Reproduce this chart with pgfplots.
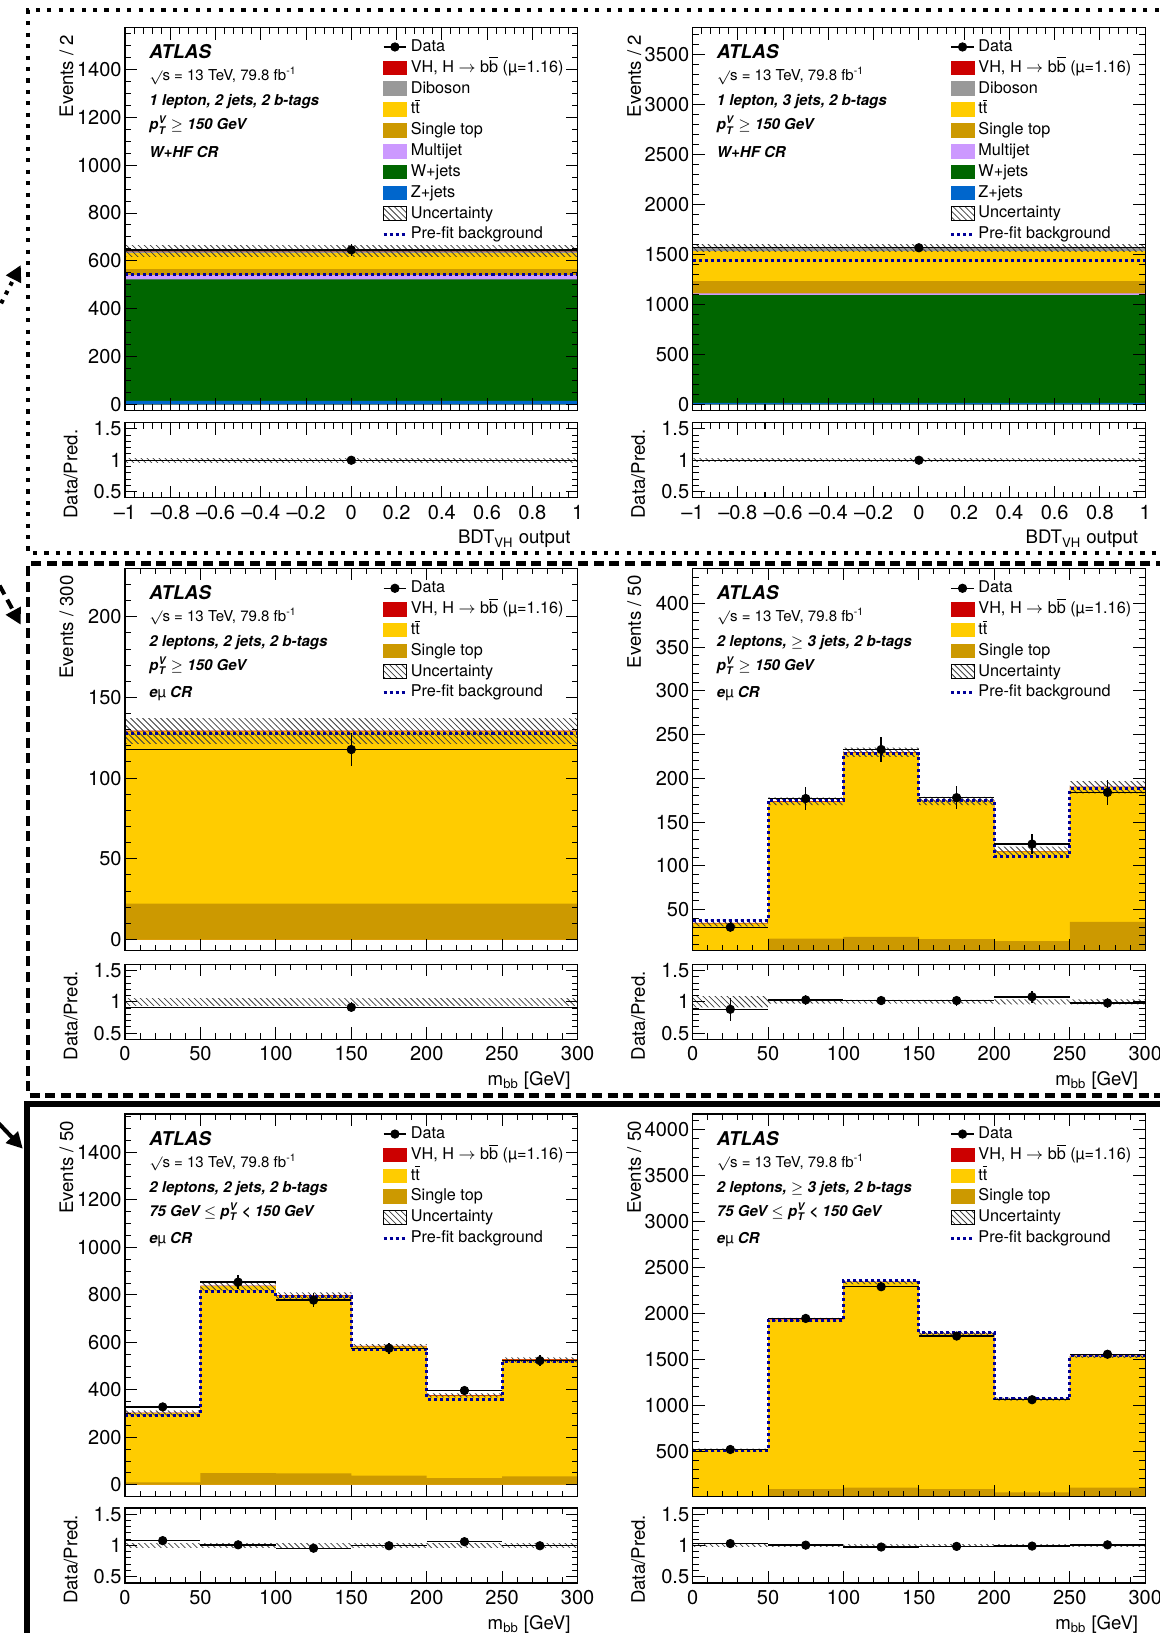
\documentclass[border=0pt]{standalone}
\usepackage{amsmath}
\usepackage{fontspec}
\setmainfont{TeX Gyre Heros}
\usepackage{pgfplots}
\pgfplotsset{compat=1.18}
\usetikzlibrary{patterns,arrows.meta}
\definecolor{cVH}{RGB}{204,0,0}
\definecolor{cDib}{RGB}{153,153,153}
\definecolor{cTT}{RGB}{255,204,0}
\definecolor{cST}{RGB}{204,153,0}
\definecolor{cMJ}{RGB}{204,153,255}
\definecolor{cW}{RGB}{0,102,0}
\definecolor{cZ}{RGB}{0,102,204}
\definecolor{cPre}{RGB}{0,0,153}
\newcommand{\fsz}[1]{\fontsize{#1}{#1}\selectfont}
\newcommand{\ptv}{\textit{p}$^{\textbf{\textit{V}}}_{\textbf{\textit{T}}}$}
\pgfplotsset{
 basestyle/.style={scale only axis, width=226pt, axis on top, tick align=inside,
   xtick pos=both, ytick pos=both, major tick length=6pt, minor tick length=3pt,
   tick style={black, line width=0.5pt}, axis line style={line width=0.6pt},
   tick label style={font=\fsz{10}}, yticklabel style={inner sep=1.5pt},
   /pgf/number format/assume math mode=true, /pgf/number format/1000 sep={},
   scaled ticks=false, label style={font=\fsz{9.3}},
   ylabel style={at={(axis description cs:-0.129,1)}, anchor=east},
   xlabel style={at={(axis description cs:1,0)}, anchor=base east, yshift=-23pt},
   legend style={anchor=north west, draw=none, fill=none, inner sep=0pt,
     font=\fsz{8.1}, row sep=0pt, nodes={inner sep=1.5pt, text height=5.9pt, text depth=1.5pt}},
   legend cell align=left},
 mainpad/.style={basestyle, height=191pt, xticklabels={}},
 ratiopad/.style={basestyle, height=37.5pt, ymin=0.4, ymax=1.6, ytick={0.5,1,1.5},
   yticklabels={0.5,1,1.5}, minor ytick={0.4,0.5,...,1.6}, ylabel={Data/Pred.},
   ylabel style={at={(axis description cs:-0.12,1)}}},
 bdtx/.style={xmin=-1, xmax=1, xtick={-1,-0.8,...,1}, minor xtick={-1,-0.96,...,1}},
 mbbx/.style={xmin=0, xmax=300, xtick={0,50,...,300}, minor xtick={0,10,...,300}},
 stk/.style={forget plot, const plot, fill=#1, draw=none},
 hatchband/.style={forget plot, draw=none, pattern=north west lines, pattern color=black!75},
 prefit/.style={forget plot, const plot, cPre, line width=1.5pt, dash pattern=on 1.5pt off 1.5pt},
 datapts/.style={forget plot, black, only marks, mark=*, mark size=2.1pt,
   error bars/.cd, x dir=both, x explicit, y dir=both, y explicit, error mark=none,
   error bar style={line width=0.7pt, black}},
 legbox/.style={legend image code/.code={\fill[#1] (0pt,-3.4pt) rectangle (11.4pt,3.4pt);}},
 legdata/.style={legend image code/.code={\draw[black, line width=0.7pt] (0pt,0pt) -- (11.4pt,0pt); \fill[black] (5.7pt,0pt) circle (2.1pt);}},
 legunc/.style={legend image code/.code={\draw[black, line width=0.4pt, pattern=north west lines, pattern color=black!75] (0pt,-3.4pt) rectangle (11.4pt,3.4pt);}},
 legpre/.style={legend image code/.code={\draw[cPre, line width=1.5pt, dash pattern=on 1.5pt off 1.5pt] (0pt,0pt) -- (11.4pt,0pt);}},
}
\newcommand{\paneltext}[3]{%
 \node[anchor=base west, inner sep=0pt, font=\bfseries\itshape\fsz{9.5}] at (axis description cs:0.053,0.919) {ATLAS};
 \node[anchor=base west, inner sep=0pt, font=\fsz{7.5}] at (axis description cs:0.053,0.861) {$\surd$s = 13 TeV, 79.8 fb\textsuperscript{-1}};
 \node[anchor=base west, inner sep=0pt, font=\bfseries\itshape\fsz{7.5}] at (axis description cs:0.053,0.796) {#1};
 \node[anchor=base west, inner sep=0pt, font=\bfseries\itshape\fsz{7.5}] at (axis description cs:0.053,0.733) {#2};
 \node[anchor=base west, inner sep=0pt, font=\bfseries\itshape\fsz{7.5}] at (axis description cs:0.053,0.662) {#3};}
\newcommand{\legsmall}{%
 \addlegendimage{legdata}\addlegendentry{Data}
 \addlegendimage{legbox=cVH}\addlegendentry{VH, H $\rightarrow$ b$\overline{\mbox{b}}$ (µ=1.16)}
 \addlegendimage{legbox=cTT}\addlegendentry{t$\overline{\mbox{t}}$}
 \addlegendimage{legbox=cST}\addlegendentry{Single top}
 \addlegendimage{legunc}\addlegendentry{Uncertainty}
 \addlegendimage{legpre}\addlegendentry{Pre-fit background}}
\newcommand{\legbig}{%
 \addlegendimage{legdata}\addlegendentry{Data}
 \addlegendimage{legbox=cVH}\addlegendentry{VH, H $\rightarrow$ b$\overline{\mbox{b}}$ (µ=1.16)}
 \addlegendimage{legbox=cDib}\addlegendentry{Diboson}
 \addlegendimage{legbox=cTT}\addlegendentry{t$\overline{\mbox{t}}$}
 \addlegendimage{legbox=cST}\addlegendentry{Single top}
 \addlegendimage{legbox=cMJ}\addlegendentry{Multijet}
 \addlegendimage{legbox=cW}\addlegendentry{W+jets}
 \addlegendimage{legbox=cZ}\addlegendentry{Z+jets}
 \addlegendimage{legunc}\addlegendentry{Uncertainty}
 \addlegendimage{legpre}\addlegendentry{Pre-fit background}}
\newcommand{\bdtlabels}{\textendash1,\textendash0.8,\textendash0.6,\textendash0.4,\textendash0.2,0,0.2,0.4,0.6,0.8,1}
\begin{document}
\begin{tikzpicture}
\useasboundingbox (0,0) rectangle (578.76pt,815.36pt);
% ================= Row 1 left
\begin{axis}[mainpad, bdtx, at={(62.4pt,610.5pt)}, anchor=south west, ymin=-25, ymax=1575,
  ytick={0,200,...,1400}, minor ytick={0,50,...,1550}, ylabel={Events / 2},
  legend style={at={(0.567,0.978)}}]
\addplot[stk=cVH] coordinates {(-1,643)(1,643)} \closedcycle;
\addplot[stk=cDib] coordinates {(-1,640)(1,640)} \closedcycle;
\addplot[stk=cTT] coordinates {(-1,632)(1,632)} \closedcycle;
\addplot[stk=cST] coordinates {(-1,565)(1,565)} \closedcycle;
\addplot[stk=cMJ] coordinates {(-1,540)(1,540)} \closedcycle;
\addplot[stk=cW] coordinates {(-1,523)(1,523)} \closedcycle;
\addplot[stk=cZ] coordinates {(-1,14)(1,14)} \closedcycle;
\addplot[hatchband] coordinates {(-1,620)(1,620)(1,666)(-1,666)} --cycle;
\addplot[prefit] coordinates {(-1,541)(1,541)};
\addplot[datapts] coordinates {(0,646) +- (1,25)};
\paneltext{1 lepton, 2 jets, 2 b-tags}{\ptv\ {\upshape\mdseries $\geq$} 150 GeV}{W+HF CR}
\legbig
\end{axis}
\begin{axis}[ratiopad, bdtx, at={(62.4pt,566.8pt)}, anchor=south west,
  xticklabels/.expanded={\bdtlabels}, xlabel={BDT\textsubscript{VH} output}]
\addplot[hatchband] coordinates {(-1,0.965)(1,0.965)(1,1.035)(-1,1.035)} --cycle;
\addplot[datapts] coordinates {(0,1.0) +- (1,0.04)};
\end{axis}
% ================= Row 1 right
\begin{axis}[mainpad, bdtx, at={(345.8pt,610.5pt)}, anchor=south west, ymin=-60, ymax=3770,
  ytick={0,500,...,3500}, minor ytick={0,100,...,3700}, ylabel={Events / 2},
  legend style={at={(0.567,0.978)}}]
\addplot[stk=cVH] coordinates {(-1,1566)(1,1566)} \closedcycle;
\addplot[stk=cDib] coordinates {(-1,1563)(1,1563)} \closedcycle;
\addplot[stk=cTT] coordinates {(-1,1533)(1,1533)} \closedcycle;
\addplot[stk=cST] coordinates {(-1,1233)(1,1233)} \closedcycle;
\addplot[stk=cMJ] coordinates {(-1,1110)(1,1110)} \closedcycle;
\addplot[stk=cW] coordinates {(-1,1093)(1,1093)} \closedcycle;
\addplot[stk=cZ] coordinates {(-1,15)(1,15)} \closedcycle;
\addplot[hatchband] coordinates {(-1,1533)(1,1533)(1,1600)(-1,1600)} --cycle;
\addplot[prefit] coordinates {(-1,1436)(1,1436)};
\addplot[datapts] coordinates {(0,1567) +- (1,40)};
\paneltext{1 lepton, 3 jets, 2 b-tags}{\ptv\ {\upshape\mdseries $\geq$} 150 GeV}{W+HF CR}
\legbig
\end{axis}
\begin{axis}[ratiopad, bdtx, at={(345.8pt,566.8pt)}, anchor=south west,
  xticklabels/.expanded={\bdtlabels}, xlabel={BDT\textsubscript{VH} output}]
\addplot[hatchband] coordinates {(-1,0.975)(1,0.975)(1,1.025)(-1,1.025)} --cycle;
\addplot[datapts] coordinates {(0,1.0) +- (1,0.03)};
\end{axis}
% ================= Row 2 left
\begin{axis}[mainpad, mbbx, at={(62.4pt,340.6pt)}, anchor=south west, ymin=-7, ymax=230,
  ytick={0,50,...,200}, minor ytick={0,10,...,230}, ylabel={Events / 300},
  legend style={at={(0.567,0.976)}}]
\addplot[stk=cVH] coordinates {(0,129.5)(300,129.5)} \closedcycle;
\addplot[stk=cTT] coordinates {(0,129)(300,129)} \closedcycle;
\addplot[stk=cST] coordinates {(0,22.3)(300,22.3)} \closedcycle;
\addplot[hatchband] coordinates {(0,121.5)(300,121.5)(300,137)(0,137)} --cycle;
\addplot[prefit] coordinates {(0,127.6)(300,127.6)};
\addplot[datapts] coordinates {(150,117.7) +- (150,10.3)};
\paneltext{2 leptons, 2 jets, 2 b-tags}{\ptv\ {\upshape\mdseries $\geq$} 150 GeV}{e{\upshape\mdseries µ} CR}
\legsmall
\end{axis}
\begin{axis}[ratiopad, mbbx, at={(62.4pt,296.4pt)}, anchor=south west, xlabel={m\textsubscript{bb} [GeV]}]
\addplot[hatchband] coordinates {(0,0.94)(300,0.94)(300,1.06)(0,1.06)} --cycle;
\addplot[datapts] coordinates {(150,0.912) +- (150,0.08)};
\end{axis}
% ================= Row 2 right
\begin{axis}[mainpad, mbbx, at={(345.8pt,340.6pt)}, anchor=south west, ymin=3, ymax=440,
  ytick={50,100,...,400}, minor ytick={10,20,...,440}, ylabel={Events / 50},
  legend style={at={(0.567,0.976)}}]
\addplot[stk=cVH] coordinates {(0,35)(50,174)(100,230)(150,174.5)(200,117)(250,190.5)(300,190.5)} \closedcycle;
\addplot[stk=cTT] coordinates {(0,34.5)(50,173.5)(100,229.5)(150,174)(200,116.5)(250,190)(300,190)} \closedcycle;
\addplot[stk=cST] coordinates {(0,2)(50,17)(100,19)(150,16.5)(200,14)(250,36)(300,36)} \closedcycle;
\addplot[hatchband] coordinates {(0,31)(50,31)(50,169.5)(100,169.5)(100,224.6)(150,224.6)(150,169.5)(200,169.5)(200,111)(250,111)(250,183)(300,183)
  (300,197)(250,197)(250,122)(200,122)(200,179)(150,179)(150,235)(100,235)(100,178)(50,178)(50,38.5)(0,38.5)} --cycle;
\addplot[prefit] coordinates {(0,37.5)(50,175)(100,228)(150,175)(200,111)(250,188.5)(300,188.5)};
\addplot[datapts] coordinates {(25,30) +- (25,6) (75,177) +- (25,13) (125,233) +- (25,14.5)
  (175,178) +- (25,13) (225,125) +- (25,11) (275,184) +- (25,14)};
\paneltext{2 leptons, {\upshape\mdseries $\geq$} 3 jets, 2 b-tags}{\ptv\ {\upshape\mdseries $\geq$} 150 GeV}{e{\upshape\mdseries µ} CR}
\legsmall
\end{axis}
\begin{axis}[ratiopad, mbbx, at={(345.8pt,296.4pt)}, anchor=south west, xlabel={m\textsubscript{bb} [GeV]}]
\addplot[hatchband] coordinates {(0,0.91)(50,0.91)(50,0.97)(200,0.97)(200,0.96)(300,0.96)
  (300,1.04)(200,1.04)(200,1.03)(50,1.03)(50,1.09)(0,1.09)} --cycle;
\addplot[datapts] coordinates {(25,0.88) +- (25,0.18) (75,1.03) +- (25,0.08) (125,1.02) +- (25,0.07)
  (175,1.02) +- (25,0.08) (225,1.08) +- (25,0.1) (275,0.98) +- (25,0.08)};
\end{axis}
% ================= Row 3 left
\begin{axis}[mainpad, mbbx, at={(62.4pt,68.1pt)}, anchor=south west, ymin=-50, ymax=1562,
  ytick={0,200,...,1400}, minor ytick={0,50,...,1550}, ylabel={Events / 50},
  legend style={at={(0.567,0.976)}}]
\addplot[stk=cVH] coordinates {(0,304)(50,839)(100,799)(150,585)(200,378)(250,529)(300,529)} \closedcycle;
\addplot[stk=cTT] coordinates {(0,302)(50,837)(100,797)(150,583)(200,376)(250,527)(300,527)} \closedcycle;
\addplot[stk=cST] coordinates {(0,10)(50,49)(100,48)(150,38)(200,28)(250,35)(300,35)} \closedcycle;
\addplot[hatchband] coordinates {(0,291)(50,291)(50,819)(100,819)(100,783)(150,783)(150,572)(200,572)(200,368)(250,368)(250,516)(300,516)
  (300,537)(250,537)(250,385)(200,385)(200,593)(150,593)(150,811)(100,811)(100,854)(50,854)(50,312)(0,312)} --cycle;
\addplot[prefit] coordinates {(0,291)(50,814)(100,795)(150,572)(200,361)(250,519)(300,519)};
\addplot[datapts] coordinates {(25,328) +- (25,18) (75,854) +- (25,29) (125,778) +- (25,28)
  (175,575) +- (25,24) (225,397) +- (25,20) (275,523) +- (25,23)};
\paneltext{2 leptons, 2 jets, 2 b-tags}{75 GeV {\upshape\mdseries $\leq$} \ptv\ < 150 GeV}{e{\upshape\mdseries µ} CR}
\legsmall
\end{axis}
\begin{axis}[ratiopad, mbbx, at={(62.4pt,24.96pt)}, anchor=south west, xlabel={m\textsubscript{bb} [GeV]}]
\addplot[hatchband] coordinates {(0,0.965)(300,0.965)(300,1.035)(0,1.035)} --cycle;
\addplot[datapts] coordinates {(25,1.077) +- (25,0.06) (75,1.01) +- (25,0.035) (125,0.956) +- (25,0.035)
  (175,0.995) +- (25,0.04) (225,1.06) +- (25,0.05) (275,0.995) +- (25,0.045)};
\end{axis}
% ================= Row 3 right
\begin{axis}[mainpad, mbbx, at={(345.8pt,68.1pt)}, anchor=south west, ymin=5, ymax=4170,
  ytick={500,1000,...,4000}, minor ytick={100,200,...,4100}, ylabel={Events / 50},
  legend style={at={(0.567,0.976)}}]
\addplot[stk=cVH] coordinates {(0,515)(50,1935)(100,2345)(150,1780)(200,1070)(250,1540)(300,1540)} \closedcycle;
\addplot[stk=cTT] coordinates {(0,510)(50,1930)(100,2340)(150,1775)(200,1065)(250,1535)(300,1535)} \closedcycle;
\addplot[stk=cST] coordinates {(0,10)(50,86)(100,104)(150,86)(200,50)(250,104)(300,104)} \closedcycle;
\addplot[hatchband] coordinates {(0,495)(50,495)(50,1912)(100,1912)(100,2318)(150,2318)(150,1755)(200,1755)(200,1050)(250,1050)(250,1515)(300,1515)
  (300,1555)(250,1555)(250,1082)(200,1082)(200,1795)(150,1795)(150,2362)(100,2362)(100,1950)(50,1950)(50,528)(0,528)} --cycle;
\addplot[prefit] coordinates {(0,507)(50,1927)(100,2355)(150,1790)(200,1068)(250,1537)(300,1537)};
\addplot[datapts] coordinates {(25,518) +- (25,23) (75,1945) +- (25,44) (125,2290) +- (25,48)
  (175,1753) +- (25,42) (225,1060) +- (25,33) (275,1555) +- (25,39)};
\paneltext{2 leptons, {\upshape\mdseries $\geq$} 3 jets, 2 b-tags}{75 GeV {\upshape\mdseries $\leq$} \ptv\ < 150 GeV}{e{\upshape\mdseries µ} CR}
\legsmall
\end{axis}
\begin{axis}[ratiopad, mbbx, at={(345.8pt,24.96pt)}, anchor=south west, xlabel={m\textsubscript{bb} [GeV]}]
\addplot[hatchband] coordinates {(0,0.985)(300,0.985)(300,1.015)(0,1.015)} --cycle;
\addplot[datapts] coordinates {(25,1.03) +- (25,0.04) (75,1.005) +- (25,0.025) (125,0.975) +- (25,0.022)
  (175,0.985) +- (25,0.025) (225,0.99) +- (25,0.03) (275,1.01) +- (25,0.025)};
\end{axis}
% ================= frames and arrows
\draw[line width=2.1pt, dash pattern=on 2.1pt off 3.6pt] (590pt,810.16pt) -- (14.04pt,810.16pt) -- (14.04pt,539.24pt) -- (590pt,539.24pt);
\draw[line width=2.1pt, dash pattern=on 5pt off 2.8pt] (590pt,534.04pt) -- (14.04pt,534.04pt) -- (14.04pt,268.32pt) -- (590pt,268.32pt);
\draw[line width=2.6pt] (590pt,264.16pt) -- (13.5pt,264.16pt) -- (13.5pt,-5pt);
\draw[line width=2pt, dash pattern=on 2pt off 3pt, -{Triangle[length=8pt,width=8pt]}] (-4pt,655pt) -- (10.4pt,683pt);
\draw[line width=2pt, dash pattern=on 5pt off 3pt, -{Triangle[length=8pt,width=8pt]}] (-4pt,530pt) -- (10.4pt,503.4pt);
\draw[line width=2pt, -{Triangle[length=8pt,width=8pt]}] (-4pt,258pt) -- (11.4pt,241.8pt);
\end{tikzpicture}
\end{document}
